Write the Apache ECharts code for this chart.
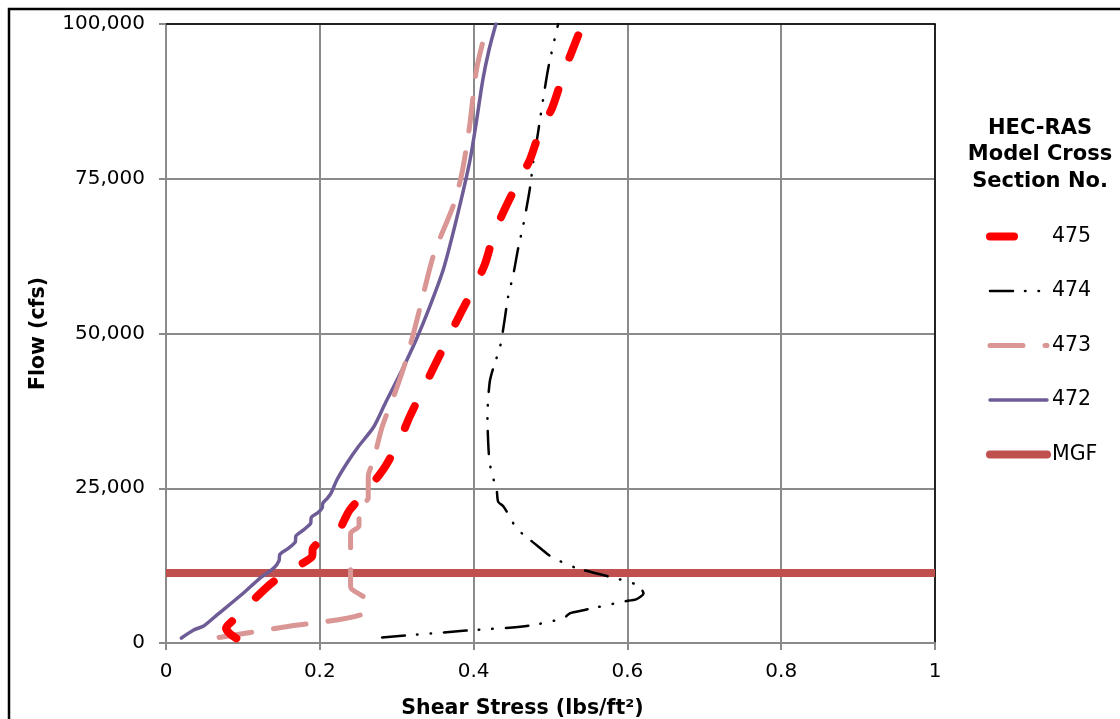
<!DOCTYPE html>
<html>
<head>
<meta charset="utf-8">
<script src="https://cdn.jsdelivr.net/npm/echarts@6/dist/echarts.min.js"></script>
<style>
  html, body { margin: 0; padding: 0; background: #fff; }
  #chart { width: 1120px; height: 719px; }
</style>
</head>
<body>
<div id="chart"></div>
<script>
// Shear stress (lbs/ft^2) vs. flow (cfs) for each HEC-RAS cross section
const stress475 = [0.0915, 0.083, 0.078, 0.0875, 0.1157, 0.1395, 0.174, 0.190, 0.191, 0.226, 0.232, 0.239, 0.265, 0.285, 0.304, 0.317, 0.335, 0.358, 0.382, 0.400, 0.415, 0.426, 0.439, 0.456, 0.473, 0.486, 0.502, 0.515, 0.525, 0.542];
const flow475   = [750, 1500, 2400, 3700, 7200, 9900, 12600, 14000, 15300, 18500, 19900, 21500, 25200, 28500, 32800, 36600, 41200, 47000, 53000, 57300, 61300, 65900, 69700, 74000, 78000, 82600, 86400, 91200, 94700, 100000];

const stress474 = [0.281, 0.390, 0.469, 0.517, 0.525, 0.543, 0.595, 0.612, 0.621, 0.612, 0.577, 0.534, 0.5015, 0.482, 0.456, 0.447, 0.4386, 0.432, 0.430, 0.4256, 0.421, 0.419, 0.418, 0.421, 0.427, 0.434, 0.4386, 0.445, 0.4516, 0.458, 0.4646, 0.4733, 0.4776, 0.482, 0.4853, 0.4906, 0.497, 0.5036, 0.510];
const flow474   = [900, 2000, 2750, 4000, 4800, 5300, 6700, 7100, 8000, 9400, 10700, 12100, 13900, 15800, 18500, 20400, 22100, 22800, 24700, 26600, 29000, 32300, 36600, 42200, 45000, 47600, 50800, 56000, 59500, 63800, 67500, 73500, 77800, 81000, 83700, 88000, 92800, 96600, 100000];

const stress473 = [0.069, 0.160, 0.252, 0.261, 0.240, 0.240, 0.240, 0.251, 0.251, 0.263, 0.263, 0.270, 0.281, 0.298, 0.313, 0.330, 0.348, 0.374, 0.385, 0.395, 0.404, 0.418];
const flow473   = [900, 2700, 4500, 6900, 9100, 13900, 17700, 18900, 21900, 23400, 26900, 29600, 34900, 40500, 46000, 54000, 62700, 70800, 76000, 83700, 92800, 100000];

const stress472 = [0.020, 0.036, 0.049, 0.066, 0.100, 0.122, 0.140, 0.147, 0.148, 0.158, 0.168, 0.169, 0.178, 0.188, 0.189, 0.198, 0.203, 0.204, 0.210, 0.215, 0.222, 0.235, 0.250, 0.270, 0.285, 0.305, 0.326, 0.345, 0.361, 0.378, 0.395, 0.404, 0.412, 0.420, 0.429];
const flow472   = [800, 2100, 2750, 4500, 8000, 10450, 12100, 13300, 14300, 15200, 16300, 17300, 18200, 19300, 20300, 21100, 21800, 22600, 23400, 24300, 26300, 29000, 31700, 34900, 38700, 43600, 49200, 55000, 60500, 68600, 77800, 84500, 91000, 95800, 100000];

// Main geomorphic flow (constant across the stress range)
const stressMGF = [0, 1];
const flowMGF   = [11300, 11300];

const xTicks = [0, 0.2, 0.4, 0.6, 0.8, 1];
const yTicks = [0, 25000, 50000, 75000, 100000];

const FONT = 'DejaVu Sans';
const GRID_GREY = '#8a8a8a';

const STYLE = {
  '475': { color: '#FF0000', width: 8, type: [24, 34] },
  '474': { color: '#000000', width: 2.5, type: [23, 12, 0.5, 13, 0.5, 13] },
  '473': { color: '#D99694', width: 5, type: [33, 22] },
  '472': { color: '#6E5C96', width: 3.5, type: 'solid' },
  'MGF': { color: '#C0504D', width: 8, type: 'solid' }
};

function pairs(xs, ys) { return xs.map((x, i) => [x, ys[i]]); }

function lineSeries(name, xs, ys, z, extra) {
  const s = STYLE[name];
  return Object.assign({
    type: 'line', name: name, z: z,
    symbol: 'none', showSymbol: false, smooth: 0.25, animation: false,
    data: pairs(xs, ys),
    itemStyle: { color: s.color },
    lineStyle: { color: s.color, width: s.width, type: s.type, cap: 'round', join: 'round' }
  }, extra || {});
}

const legendNames = ['475', '474', '473', '472', 'MGF'];

const chart = echarts.init(document.getElementById('chart'), null, { renderer: 'canvas' });

chart.setOption({
  animation: false,
  textStyle: { fontFamily: FONT },
  grid: { left: 166, right: 185, top: 24, bottom: 76, containLabel: false, outerBoundsMode: 'none' },
  graphic: [
    {
      type: 'rect', z: -10, silent: true,
      shape: { x: 9, y: 9, width: 1200, height: 800 },
      style: { fill: 'none', stroke: '#000', lineWidth: 2.5 }
    },
    {
      type: 'text', x: 1040, y: 115, z: 10,
      style: {
        text: 'HEC-RAS\nModel Cross\nSection No.',
        textAlign: 'center', font: 'bold 21px "DejaVu Sans"', lineHeight: 26.5, fill: '#000'
      }
    }
  ],
  legend: {
    orient: 'vertical', left: 986, top: 226, padding: 0,
    itemWidth: 57, itemHeight: 20, itemGap: 33.5,
    data: legendNames.map(n => ({
      name: n,
      itemStyle: { opacity: 0 },
      lineStyle: { color: STYLE[n].color, width: STYLE[n].width, type: STYLE[n].type, cap: 'round' }
    })),
    textStyle: { fontFamily: FONT, fontSize: 20.5, color: '#000', lineHeight: 20 },
    selectedMode: false
  },
  xAxis: [
    {
      type: 'value', min: 0, max: 1, interval: 0.2,
      name: 'Shear Stress (lbs/ft²)', nameLocation: 'middle', nameGap: 55,
      nameTextStyle: { fontFamily: FONT, fontSize: 20.5, fontWeight: 'bold', color: '#000', padding: [0, 56, 0, 0] },
      axisLine: { lineStyle: { color: GRID_GREY, width: 2 } },
      axisTick: { show: true, length: 7, lineStyle: { color: GRID_GREY, width: 2 } },
      axisLabel: {
        margin: 19, fontSize: 20, color: '#000', fontFamily: FONT,
        formatter: v => { const t = xTicks.find(k => Math.abs(k - v) < 1e-9); return t === undefined ? '' : String(t); }
      },
      splitLine: { show: true, lineStyle: { color: GRID_GREY, width: 2 } }
    },
    {
      type: 'value', min: 0, max: 1, position: 'top',
      axisLine: { show: true, onZero: false, lineStyle: { color: '#000', width: 1.5 } },
      axisTick: { show: false }, axisLabel: { show: false }, splitLine: { show: false }
    }
  ],
  yAxis: [
    {
      type: 'value', min: 0, max: 100000, interval: 25000,
      name: 'Flow (cfs)', nameLocation: 'middle', nameGap: 117, nameRotate: 90,
      nameTextStyle: { fontFamily: FONT, fontSize: 20.5, fontWeight: 'bold', color: '#000' },
      axisLine: { show: true, lineStyle: { color: GRID_GREY, width: 2 } },
      axisTick: { show: true, length: 7, lineStyle: { color: GRID_GREY, width: 2 } },
      axisLabel: {
        margin: 21, fontSize: 20, color: '#000', fontFamily: FONT,
        formatter: v => yTicks.includes(v) ? v.toLocaleString('en-US') : ''
      },
      splitLine: { show: true, lineStyle: { color: GRID_GREY, width: 2 } }
    },
    {
      type: 'value', min: 0, max: 100000, position: 'right',
      axisLine: { show: true, onZero: false, lineStyle: { color: '#000', width: 1.5 } },
      axisTick: { show: false }, axisLabel: { show: false }, splitLine: { show: false }
    }
  ],
  series: [
    lineSeries('MGF', stressMGF, flowMGF, 3, { smooth: false, lineStyle: { color: STYLE.MGF.color, width: 8, cap: 'butt' } }),
    lineSeries('472', stress472, flow472, 4),
    lineSeries('473', stress473, flow473, 5),
    lineSeries('474', stress474, flow474, 6),
    lineSeries('475', stress475, flow475, 7)
  ]
});
</script>
</body>
</html>
